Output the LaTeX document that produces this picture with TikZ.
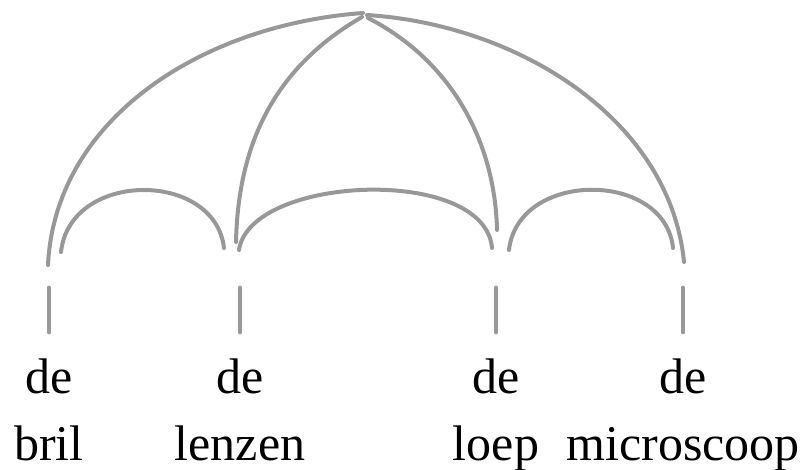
\documentclass[tikz,border=0pt]{standalone}
\usepackage{fontspec}
\setmainfont{Liberation Serif}
\usetikzlibrary{positioning}
\definecolor{archgray}{RGB}{152,152,152}
\tikzset{
  arch/.style={draw=archgray, line width=2pt, line cap=round},
  tick/.style={draw=archgray, line width=2.4pt, line cap=round},
  word/.style={anchor=base, inner sep=0pt, font=\fontsize{25}{30}\selectfont}
}
\begin{document}
\begin{tikzpicture}[x=0.5pt,y=-0.5pt]
    \useasboundingbox (0,0) rectangle (807,470);
    \coordinate (ApexL) at (363,13);
    \coordinate (ApexR) at (367,15);
    \coordinate (BrilFoot)   at (48,265);
    \coordinate (LenzenFoot) at (236,242);
    \coordinate (LoepFoot)   at (497,230);
    \coordinate (MicroFoot)  at (684,262);

    % the big vault and its two ribs
    \draw[arch] (BrilFoot) .. controls (55,120) and (200,25) .. (ApexL);
    \draw[arch] (ApexR) .. controls (520,25) and (670,120) .. (MicroFoot);
    \draw[arch] (362,17) .. controls (270,70) and (238,150) .. (LenzenFoot);
    \draw[arch] (368,18) .. controls (450,60) and (495,140) .. (LoepFoot);

    % the three low arches
    \draw[arch] (61,252) .. controls (70,170) and (215,170) .. (224,248);
    \draw[arch] (239,250) .. controls (250,175) and (485,165) .. (492,248);
    \draw[arch] (509,250) .. controls (518,170) and (665,170) .. (673,248);

    \foreach \x/\word/\name in {49/bril/Bril, 240/lenzen/Lenzen,
                                496/loep/Loep, 683/microscoop/Micro}{%
      \coordinate (\name Top) at (\x,288);
      \coordinate (\name Bot) at (\x,332);
      \draw[tick] (\name Top) -- (\name Bot);
      \node[word] (De\name) at (\x,393) {de};
      \node[word] (\name) at (\x,460) {\word};
    }
\end{tikzpicture}
\end{document}
